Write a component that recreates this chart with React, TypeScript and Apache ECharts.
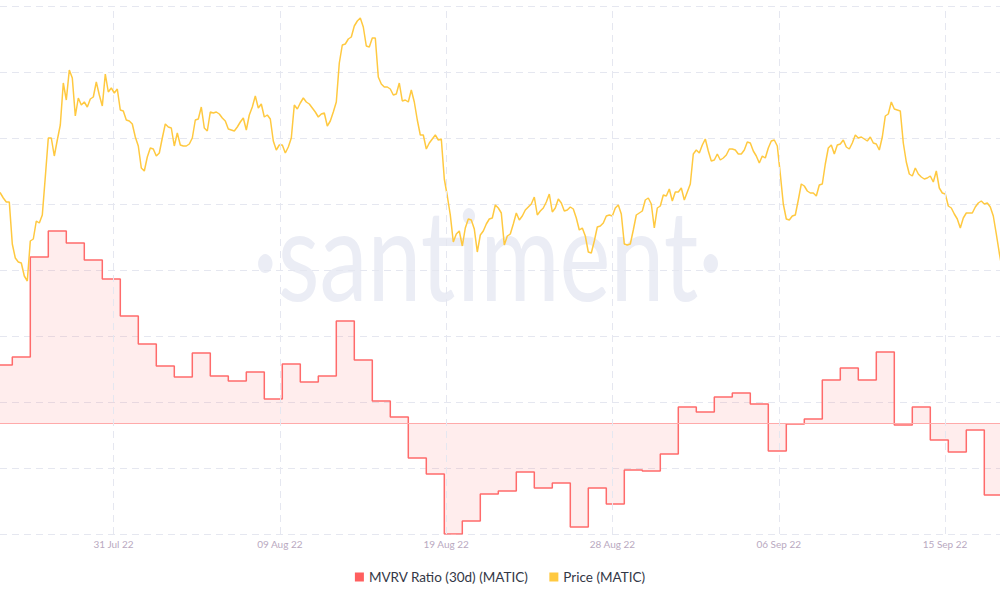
import React, { useEffect, useRef } from 'react';
import * as echarts from 'echarts';

const DAY = 86400000;
const HOUR = 3600000;

// Daily MVRV Ratio (30d), % — one value per UTC day starting 25 Jul 2022
const mvrvStart = Date.UTC(2022, 6, 25);
const mvrvValues = [
  5.8, 6.6, 16.6, 19.2, 18.0, 16.3, 14.4, 10.7, 7.9, 5.7,
  4.6, 7.0, 4.7, 4.2, 5.1, 2.4, 5.9, 4.1, 4.7, 10.2,
  6.3, 2.2, 0.6, -3.5, -5.1, -11.1, -9.8, -7.1, -6.8, -4.9,
  -6.5, -6.0, -10.4, -6.5, -8.1, -4.7, -4.8, -3.1, 1.6, 1.1,
  2.6, 3.0, 1.9, -2.8, -0.1, 0.4, 4.3, 5.5, 4.3, 7.1,
  -0.2, 1.6, -1.7, -2.9, -0.7, -7.2, -7.2,
];

// MATIC price (USD), 4-hourly starting 25 Jul 2022 04:00 UTC
const priceStart = Date.UTC(2022, 6, 25, 4);
const priceStepHours = 4;
const priceValues = [
  0.872, 0.869, 0.864, 0.860, 0.860, 0.818, 0.804, 0.800, 0.799, 0.786, 0.781,
  0.821, 0.823, 0.841, 0.839, 0.847, 0.885, 0.924, 0.924, 0.906, 0.922,
  0.937, 0.979, 0.962, 0.992, 0.984, 0.946, 0.964, 0.957, 0.960, 0.955,
  0.963, 0.965, 0.980, 0.967, 0.956, 0.988, 0.970, 0.974, 0.969, 0.973,
  0.952, 0.951, 0.942, 0.941, 0.938, 0.925, 0.916, 0.894, 0.891, 0.905,
  0.914, 0.913, 0.906, 0.909, 0.924, 0.938, 0.935, 0.934, 0.916, 0.929,
  0.917, 0.916, 0.916, 0.918, 0.924, 0.942, 0.943, 0.955, 0.934, 0.931,
  0.950, 0.949, 0.950, 0.948, 0.944, 0.941, 0.933, 0.932, 0.931, 0.935,
  0.940, 0.944, 0.932, 0.947, 0.955, 0.966, 0.954, 0.958, 0.945, 0.947,
  0.943, 0.921, 0.912, 0.917, 0.917, 0.909, 0.915, 0.924, 0.957, 0.953,
  0.959, 0.964, 0.960, 0.958, 0.954, 0.950, 0.945, 0.948, 0.949, 0.936,
  0.941, 0.950, 0.960, 0.999, 1.017, 1.018, 1.023, 1.025, 1.036, 1.041,
  1.044, 1.035, 1.016, 1.015, 1.024, 1.024, 0.985, 0.978, 0.975, 0.975,
  0.973, 0.967, 0.968, 0.979, 0.961, 0.962, 0.960, 0.972, 0.960, 0.942,
  0.927, 0.927, 0.913, 0.919, 0.923, 0.927, 0.922, 0.923, 0.883, 0.866,
  0.847, 0.820, 0.828, 0.831, 0.816, 0.834, 0.843, 0.842, 0.833, 0.810,
  0.827, 0.831, 0.838, 0.843, 0.844, 0.857, 0.854, 0.849, 0.817, 0.826,
  0.828, 0.838, 0.849, 0.842, 0.846, 0.852, 0.855, 0.858, 0.865, 0.847,
  0.851, 0.854, 0.860, 0.868, 0.850, 0.854, 0.863, 0.859, 0.851, 0.852,
  0.855, 0.853, 0.844, 0.832, 0.834, 0.826, 0.810, 0.809, 0.821, 0.835,
  0.836, 0.839, 0.846, 0.847, 0.846, 0.854, 0.857, 0.848, 0.818, 0.817,
  0.818, 0.832, 0.847, 0.849, 0.851, 0.862, 0.864, 0.858, 0.834, 0.854,
  0.856, 0.867, 0.866, 0.873, 0.861, 0.870, 0.870, 0.874, 0.862, 0.870,
  0.878, 0.908, 0.912, 0.909, 0.917, 0.923, 0.911, 0.901, 0.902, 0.908,
  0.902, 0.904, 0.907, 0.913, 0.913, 0.912, 0.908, 0.908, 0.912, 0.920,
  0.919, 0.911, 0.906, 0.899, 0.906, 0.904, 0.914, 0.921, 0.922, 0.916,
  0.888, 0.858, 0.843, 0.842, 0.846, 0.847, 0.862, 0.878, 0.876, 0.871,
  0.869, 0.869, 0.866, 0.877, 0.878, 0.898, 0.914, 0.917, 0.908, 0.917,
  0.918, 0.922, 0.915, 0.913, 0.919, 0.927, 0.924, 0.925, 0.923, 0.921,
  0.925, 0.919, 0.918, 0.912, 0.925, 0.946, 0.948, 0.960, 0.953, 0.952,
  0.951, 0.919, 0.900, 0.888, 0.886, 0.894, 0.888, 0.885, 0.883, 0.884,
  0.886, 0.880, 0.891, 0.874, 0.869, 0.868, 0.856, 0.854, 0.848, 0.843,
  0.834, 0.844, 0.849, 0.849, 0.849, 0.855, 0.859, 0.861, 0.858, 0.859,
  0.855, 0.846, 0.828, 0.809, 0.792,
];

// X axis ticks (evenly spaced) and their labels
const tickTimes = [
  Date.UTC(2022, 6, 31, 15, 0),
  Date.UTC(2022, 7, 9, 20, 44),
  Date.UTC(2022, 7, 19, 2, 28),
  Date.UTC(2022, 7, 28, 8, 12),
  Date.UTC(2022, 8, 6, 13, 56),
  Date.UTC(2022, 8, 15, 19, 40),
];
const tickLabels = ['31 Jul 22', '09 Aug 22', '19 Aug 22', '28 Aug 22', '06 Sep 22', '15 Sep 22'];

const xMin = Date.UTC(2022, 6, 25, 7, 36);
const xMax = Date.UTC(2022, 8, 18, 20, 56);

const MVRV_NAME = 'MVRV Ratio (30d) (MATIC)';
const PRICE_NAME = 'Price (MATIC)';

export default function App() {
  const ref = useRef<HTMLDivElement>(null);

  useEffect(() => {
    if (!ref.current) return;
    const chart = echarts.init(ref.current, undefined, { renderer: 'svg' });

    const mvrvData = mvrvValues.map((v, i) => [mvrvStart + i * DAY, v]);
    const priceData = priceValues.map((v, i) => [priceStart + i * priceStepHours * HOUR, v]);

    const labelFor = (val: number) => {
      let best = 0;
      let bestD = Infinity;
      tickTimes.forEach((t, i) => {
        const d = Math.abs(t - val);
        if (d < bestD) {
          bestD = d;
          best = i;
        }
      });
      return tickLabels[best];
    };

    chart.setOption({
      animation: false,
      backgroundColor: '#ffffff',
      grid: { left: 0, right: 0, top: 6, bottom: 66, containLabel: false },
      graphic: [
        {
          type: 'text',
          x: 488,
          y: 252,
          scaleX: 0.76,
          z: -1,
          silent: true,
          style: {
            text: '·santiment·',
            fill: '#ebedf5',
            fontSize: 127,
            fontFamily: 'Lato',
            fontWeight: 'normal',
            align: 'center',
            verticalAlign: 'middle',
            textAlign: 'center',
            textVerticalAlign: 'middle',
          },
        },
      ],
      legend: {
        data: [MVRV_NAME, PRICE_NAME],
        left: 'center',
        top: 565,
        icon: 'rect',
        itemWidth: 9,
        itemHeight: 9,
        itemGap: 21,
        textStyle: { color: '#333846', fontSize: 13.5, fontFamily: 'Lato' },
      },
      xAxis: {
        type: 'value',
        min: xMin,
        max: xMax,
        axisLine: { show: true, lineStyle: { color: '#e6e7ef', width: 1 } },
        axisTick: { show: false, customValues: tickTimes },
        axisLabel: {
          customValues: tickTimes,
          formatter: (v: number) => labelFor(v),
          color: '#b9a9bf',
          fontSize: 10,
          fontFamily: 'Lato',
          margin: 5,
        },
        splitLine: { show: false },
      },
      yAxis: [
        {
          type: 'value',
          min: 0.528,
          max: 1.056,
          interval: 0.066,
          axisLine: { show: false },
          axisTick: { show: false },
          axisLabel: { show: false },
          splitLine: { show: true, lineStyle: { color: '#e5e7f0', type: [7, 5], width: 1 } },
        },
        {
          type: 'value',
          min: -11.1,
          max: 41.7,
          show: false,
          splitLine: { show: false },
        },
      ],
      series: [
        {
          name: MVRV_NAME,
          type: 'line',
          yAxisIndex: 1,
          step: 'end',
          data: mvrvData,
          symbol: 'none',
          showSymbol: false,
          lineStyle: { color: '#ff6b6b', width: 1.5 },
          itemStyle: { color: '#ff5f5f' },
          areaStyle: { color: 'rgba(255, 110, 110, 0.18)' },
          z: 2,
          markLine: {
            silent: true,
            symbol: ['none', 'none'],
            label: { show: false },
            lineStyle: { color: '#ffaaaa', type: 'solid', width: 1 },
            data: [{ yAxis: 0 }],
          },
        },
        {
          name: PRICE_NAME,
          type: 'line',
          yAxisIndex: 0,
          data: priceData,
          symbol: 'none',
          showSymbol: false,
          lineStyle: { color: '#ffc940', width: 1.5 },
          itemStyle: { color: '#ffc940' },
          z: 3,
          markLine: {
            silent: true,
            symbol: ['none', 'none'],
            label: { show: false },
            lineStyle: { color: '#e5e7f0', type: [7, 5], width: 1 },
            data: tickTimes.map((t) => ({ xAxis: t })),
          },
        },
      ],
    });

    return () => chart.dispose();
  }, []);

  return (
    <div
      ref={ref}
      style={{ position: 'fixed', left: 0, top: 0, width: 1000, height: 600, background: '#fff' }}
    />
  );
}
